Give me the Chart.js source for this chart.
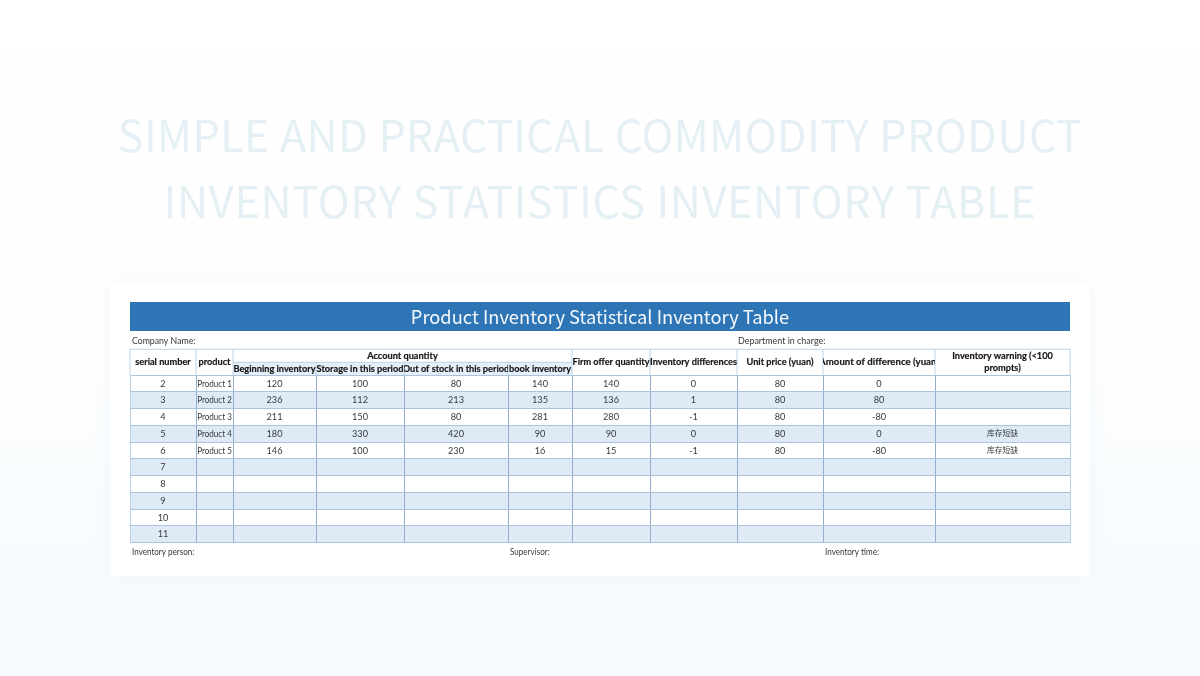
<!DOCTYPE html>
<html>
<head>
<meta charset="utf-8">
<title>Product Inventory Statistical Inventory Table</title>
<script src="https://cdn.jsdelivr.net/npm/chart.js@4"></script>
<style>
    html, body { margin: 0; padding: 0; width: 1200px; height: 676px; overflow: hidden; }
    body { background: linear-gradient(180deg, #ffffff 0%, #fefefe 50%, #f9fcfe 72%, #f5fafe 100%); position: relative; }
    #card { position: absolute; left: 110px; top: 282px; width: 980px; height: 294px; background: #fff; box-shadow: 0 0 14px rgba(190, 215, 235, 0.18); }
    #table { position: absolute; left: 0; top: 0; filter: blur(0.35px); }
</style>
</head>
<body>
<div id="card"></div>
<canvas id="table" width="1200" height="676"></canvas>
<script>
// ============================================
// Table data
// ============================================
const serialNumbers = ['2', '3', '4', '5', '6', '7', '8', '9', '10', '11'];
const products = ['Product 1', 'Product 2', 'Product 3', 'Product 4', 'Product 5'];
const beginningInventory = [120, 236, 211, 180, 146];
const storageInPeriod = [100, 112, 150, 330, 100];
const outOfStockInPeriod = [80, 213, 80, 420, 230];
const bookInventory = [140, 135, 281, 90, 16];
const firmOfferQuantity = [140, 136, 280, 90, 15];
const inventoryDifferences = [0, 1, -1, 0, -1];
const unitPrice = [80, 80, 80, 80, 80];
const amountOfDifference = [0, 80, -80, 0, -80];
const inventoryWarning = ['', '', '', '库存短缺', '库存短缺'];

const headingLines = ['SIMPLE AND PRACTICAL COMMODITY PRODUCT', 'INVENTORY STATISTICS INVENTORY TABLE'];
const tableTitle = 'Product Inventory Statistical Inventory Table';
const columnHeaders = ['serial number', 'product', 'Beginning inventory', 'Storage in this period',
    'Out of stock in this period', 'book inventory', 'Firm offer quantity', 'Inventory differences',
    'Unit price (yuan)', 'Amount of difference (yuan)', 'Inventory warning (<100|prompts)'];
const groupHeader = 'Account quantity';

const columns = [serialNumbers, products, beginningInventory, storageInPeriod, outOfStockInPeriod, bookInventory,
    firmOfferQuantity, inventoryDifferences, unitPrice, amountOfDifference, inventoryWarning];

// column widths on the x scale
const columnWidths = [66, 37, 83, 88, 104, 64, 78, 87, 86, 112, 135];
const columnEdges = columnWidths.reduce((edges, w) => edges.concat(edges[edges.length - 1] + w), [0]);
const tableWidth = columnEdges[columnEdges.length - 1];

const FONT = '"Noto Sans CJK SC", "Noto Sans", sans-serif';
const CELL_FONT = 'Lato, "Noto Sans CJK SC", sans-serif';
const NARROW = 0.88; // the small labels run narrower than Lato

// ============================================
// Everything that is not a row band: text and header
// ============================================
const tablePlugin = {
    id: 'tableText',
    afterDraw(chart) {
        const { ctx, chartArea } = chart;
        const x = chart.scales.x;
        const y = chart.scales.y;
        const edge = i => x.getPixelForValue(columnEdges[i]);
        const rowH = y.getPixelForValue(1) - y.getPixelForValue(0);
        const headTop = chartArea.top - 25.7;
        const subTop = chartArea.top - 12.7;

        const put = (text, px, py, font, color, align, squeeze) => {
            ctx.save();
            ctx.font = font;
            ctx.fillStyle = color;
            ctx.textAlign = align || 'center';
            ctx.textBaseline = 'middle';
            ctx.translate(px, py);
            ctx.scale(squeeze || 1, 1);
            ctx.fillText(text, 0, 0);
            ctx.restore();
        };
        // bold header text gets a hairline stroke to reach the reference weight
        const putBold = (text, px, py, stretch) => {
            ctx.save();
            ctx.font = 'bold 9.2px ' + CELL_FONT;
            ctx.fillStyle = '#15171a';
            ctx.strokeStyle = '#15171a';
            ctx.lineWidth = 0.18;
            ctx.textAlign = 'center';
            ctx.textBaseline = 'middle';
            ctx.translate(px, py);
            ctx.scale(stretch || 1, 1);
            ctx.fillText(text, 0, 0);
            ctx.strokeText(text, 0, 0);
            ctx.restore();
        };

        ctx.save();

        // page heading
        ctx.letterSpacing = '0.5px';
        put(headingLines[0], 600, 136, '400 43px ' + FONT, '#e4f0f4');
        ctx.letterSpacing = '0.8px';
        put(headingLines[1], 600, 202, '400 43px ' + FONT, '#e4f0f4');
        ctx.letterSpacing = '0px';

        // title banner
        ctx.fillStyle = '#2e75b6';
        ctx.fillRect(edge(0), 302, edge(11) - edge(0), 29);
        put(tableTitle, 600, 317, '18.3px ' + FONT, '#f4f8fc');

        // sub header tint under the Account quantity group
        ctx.fillStyle = '#e6eff8';
        ctx.fillRect(edge(2), subTop, edge(6) - edge(2), chartArea.top - subTop);

        // header rules
        ctx.strokeStyle = '#bcd3e8';
        ctx.lineWidth = 1;
        ctx.beginPath();
        ctx.moveTo(edge(0), headTop);
        ctx.lineTo(edge(11), headTop);
        ctx.moveTo(edge(2), subTop);
        ctx.lineTo(edge(6), subTop);
        columnEdges.forEach((value, i) => {
            if (i > 2 && i < 6) {
                ctx.moveTo(edge(i), subTop);
            } else {
                ctx.moveTo(edge(i), headTop);
            }
            ctx.lineTo(edge(i), chartArea.top);
        });
        ctx.stroke();

        // header labels, clipped to their cells
        columnHeaders.forEach((label, i) => {
            const mid = (edge(i) + edge(i + 1)) / 2;
            const sub = i >= 2 && i <= 5;
            ctx.save();
            ctx.beginPath();
            ctx.rect(edge(i), headTop, edge(i + 1) - edge(i), chartArea.top - headTop);
            ctx.clip();
            if (label.includes('|')) {
                const parts = label.split('|');
                putBold(parts[0], mid, headTop + 6.5);
                putBold(parts[1], mid, headTop + 18.7);
            } else {
                // the Amount header overflows its cell and loses both ends
                const stretch = label === columnHeaders[9] ? 1.05 : 1;
                putBold(label, mid, sub ? subTop + 6.3 : headTop + 12.8, stretch);
            }
            ctx.restore();
        });
        putBold(groupHeader, (edge(2) + edge(6)) / 2, headTop + 6.5);

        // body cells
        columns.forEach((values, c) => {
            const mid = (edge(c) + edge(c + 1)) / 2;
            const size = values === inventoryWarning ? '7.8px ' : '9.2px ';
            const squeeze = values === products ? NARROW : 1;
            values.forEach((value, r) => {
                put(String(value), mid, y.getPixelForValue(r) + 0.3, size + CELL_FONT, '#36383c', 'center', squeeze);
            });
        });

        // lines outside the table
        const noteFont = '9.2px ' + CELL_FONT;
        const noteColor = '#36383c';
        put('Company Name:', edge(0) + 2, 341, noteFont, noteColor, 'left', 0.95);
        put('Department in charge:', edge(8) + 1, 341, noteFont, noteColor, 'left', 0.97);
        const footY = chartArea.bottom + rowH * 0.56;
        put('Inventory person:', edge(0) + 2, footY, noteFont, noteColor, 'left', NARROW);
        put('Supervisor:', edge(5) + 2, footY, noteFont, noteColor, 'left', NARROW);
        put('Inventory time:', edge(9) + 2, footY, noteFont, noteColor, 'left', NARROW);

        ctx.restore();
    }
};

// ============================================
// Chart: alternate row bands and the cell grid
// ============================================
new Chart(document.getElementById('table'), {
    type: 'bar',
    data: {
        labels: serialNumbers,
        datasets: [{
            data: serialNumbers.map((s, i) => (i % 2 === 1 ? [0, tableWidth] : null)),
            backgroundColor: '#deeaf6',
            borderWidth: 0,
            barPercentage: 1,
            categoryPercentage: 1
        }]
    },
    plugins: [tablePlugin],
    options: {
        indexAxis: 'y',
        responsive: false,
        animation: false,
        events: [],
        layout: { padding: { left: 130, right: 130, top: 375, bottom: 133.5 } },
        plugins: { legend: { display: false }, tooltip: { enabled: false }, title: { display: false } },
        scales: {
            x: {
                type: 'linear',
                min: 0,
                max: tableWidth,
                afterBuildTicks: axis => { axis.ticks = columnEdges.map(value => ({ value })); },
                grid: {
                    color: c => (c.index === 0 || c.index === columnWidths.length ? '#b9d0e6' : '#93aecb'),
                    lineWidth: 1,
                    drawTicks: false,
                    z: 1
                },
                border: { display: false },
                ticks: { display: false }
            },
            y: {
                type: 'category',
                offset: true,
                grid: { color: '#abc3db', lineWidth: 1, drawTicks: false, offset: true, z: 1 },
                border: { display: false },
                ticks: { display: false }
            }
        }
    }
});
</script>
</body>
</html>
